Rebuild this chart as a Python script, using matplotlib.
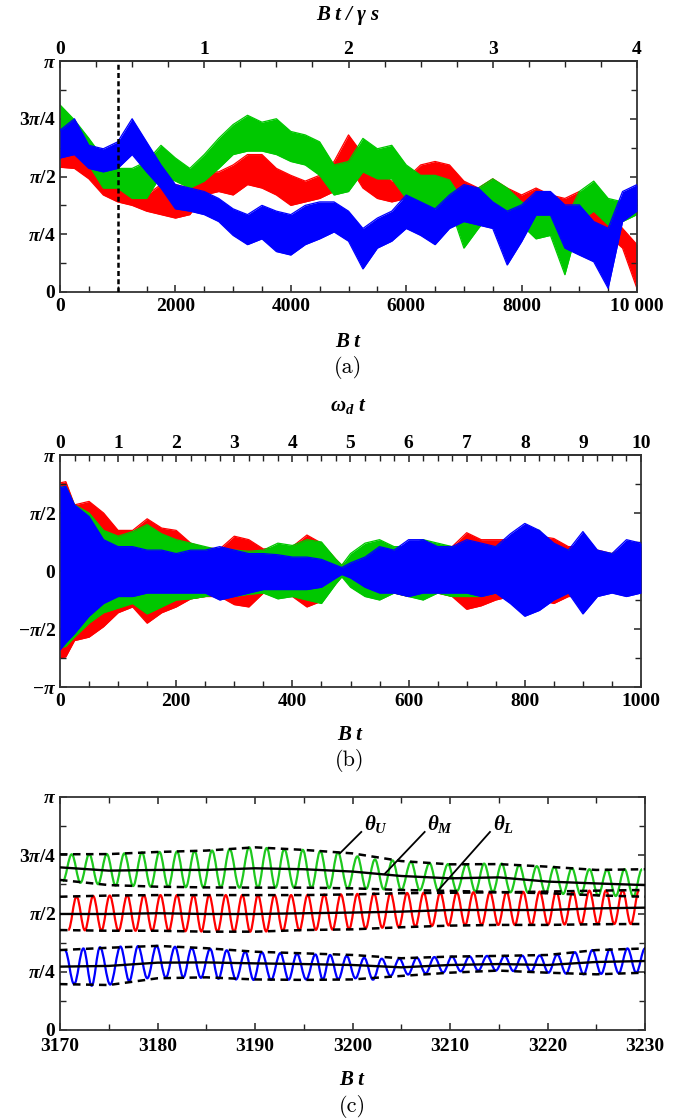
import numpy as np
import matplotlib
matplotlib.use('Agg')
import matplotlib.pyplot as plt
from matplotlib.ticker import FixedLocator, MultipleLocator
from matplotlib.path import Path
from matplotlib.patches import PathPatch
from matplotlib.font_manager import FontProperties

# ---------------- data (angles in units of pi) ----------------
# panel (a): envelopes of the noisy trajectories
a_bt = [0, 250, 500, 750, 1000, 1250, 1500, 1750, 2000, 2250, 2500, 2750, 3000, 3250,
        3500, 3750, 4000, 4250, 4500, 4750, 5000, 5250, 5500, 5750, 6000, 6250, 6500,
        6750, 7000, 7250, 7500, 7750, 8000, 8250, 8500, 8750, 9000, 9250, 9500, 9750, 10000]
a_green_hi = [0.81, 0.745, 0.665, 0.58, 0.535, 0.535, 0.565, 0.635, 0.58, 0.535, 0.595, 0.665,
              0.725, 0.765, 0.735, 0.75, 0.695, 0.68, 0.65, 0.55, 0.565, 0.665, 0.62, 0.635,
              0.55, 0.505, 0.505, 0.485, 0.39, 0.45, 0.49, 0.45, 0.39, 0.36, 0.375, 0.305,
              0.435, 0.48, 0.405, 0.39, 0.405]
a_green_lo = [0.62, 0.615, 0.55, 0.45, 0.45, 0.405, 0.405, 0.505, 0.48, 0.45, 0.48, 0.535,
              0.595, 0.61, 0.61, 0.595, 0.565, 0.55, 0.505, 0.42, 0.435, 0.52, 0.49, 0.49,
              0.405, 0.375, 0.36, 0.375, 0.19, 0.275, 0.35, 0.335, 0.29, 0.23, 0.245, 0.075,
              0.305, 0.35, 0.29, 0.305, 0.335]
a_red_hi = [0.61, 0.61, 0.58, 0.52, 0.49, 0.45, 0.42, 0.465, 0.465, 0.45, 0.52, 0.52, 0.55,
            0.595, 0.595, 0.535, 0.505, 0.48, 0.505, 0.565, 0.68, 0.595, 0.52, 0.48, 0.49,
            0.55, 0.565, 0.55, 0.48, 0.45, 0.49, 0.45, 0.42, 0.45, 0.42, 0.405, 0.435, 0.39,
            0.35, 0.275, 0.205]
a_red_lo = [0.54, 0.535, 0.49, 0.42, 0.39, 0.375, 0.35, 0.335, 0.32, 0.335, 0.42, 0.435, 0.42,
            0.465, 0.45, 0.42, 0.375, 0.39, 0.405, 0.435, 0.55, 0.45, 0.405, 0.39, 0.405,
            0.465, 0.48, 0.45, 0.39, 0.375, 0.405, 0.375, 0.36, 0.36, 0.35, 0.335, 0.35,
            0.305, 0.245, 0.19, 0.015]
a_blue_hi = [0.70, 0.75, 0.635, 0.62, 0.65, 0.75, 0.65, 0.55, 0.465, 0.45, 0.435, 0.405, 0.36,
             0.335, 0.375, 0.35, 0.335, 0.375, 0.39, 0.39, 0.35, 0.275, 0.32, 0.35, 0.42,
             0.39, 0.36, 0.42, 0.465, 0.45, 0.39, 0.35, 0.377, 0.435, 0.435, 0.377, 0.377,
             0.305, 0.276, 0.435, 0.465]
a_blue_lo = [0.58, 0.595, 0.535, 0.52, 0.535, 0.595, 0.52, 0.45, 0.36, 0.35, 0.335, 0.305,
             0.245, 0.205, 0.23, 0.175, 0.16, 0.205, 0.23, 0.26, 0.22, 0.10, 0.19, 0.22,
             0.275, 0.245, 0.205, 0.275, 0.305, 0.29, 0.275, 0.117, 0.218, 0.333, 0.333,
             0.19, 0.16, 0.131, 0.016, 0.305, 0.35]
a_marker_bt = 1000

# panel (b): envelopes of the fast oscillations
b_bt = [0, 10, 25, 50, 75, 100, 125, 150, 175, 200, 225, 250, 275, 300, 325, 350, 375, 400,
        425, 450, 475, 485, 500, 525, 550, 575, 600, 625, 650, 675, 700, 725, 750, 775, 800,
        825, 850, 875, 900, 925, 950, 975, 1000]
b_red_hi = [0.76, 0.77, 0.57, 0.60, 0.50, 0.35, 0.35, 0.45, 0.37, 0.35, 0.24, 0.20, 0.19, 0.30,
            0.27, 0.19, 0.20, 0.21, 0.31, 0.24, 0.10, 0.05, 0.10, 0.13, 0.20, 0.19, 0.21, 0.25,
            0.22, 0.21, 0.33, 0.27, 0.27, 0.27, 0.33, 0.30, 0.28, 0.21, 0.21, 0.18, 0.15, 0.21,
            0.21]
b_red_lo = [-0.75, -0.74, -0.60, -0.57, -0.48, -0.36, -0.31, -0.45, -0.36, -0.31, -0.24, -0.22,
            -0.22, -0.29, -0.31, -0.19, -0.22, -0.22, -0.31, -0.26, -0.10, -0.05, -0.10, -0.14,
            -0.20, -0.19, -0.22, -0.22, -0.19, -0.22, -0.33, -0.30, -0.25, -0.22, -0.28, -0.25,
            -0.28, -0.22, -0.22, -0.20, -0.16, -0.19, -0.19]
b_green_hi = [0.72, 0.73, 0.57, 0.50, 0.35, 0.30, 0.34, 0.40, 0.32, 0.27, 0.24, 0.21, 0.18, 0.18,
              0.17, 0.18, 0.24, 0.22, 0.27, 0.25, 0.10, 0.05, 0.15, 0.24, 0.27, 0.21, 0.21,
              0.27, 0.24, 0.21, 0.21, 0.21, 0.21, 0.28, 0.37, 0.35, 0.21, 0.18, 0.18, 0.17,
              0.15, 0.17, 0.18]
b_green_lo = [-0.66, -0.65, -0.57, -0.45, -0.36, -0.32, -0.28, -0.37, -0.31, -0.25, -0.24,
              -0.22, -0.20, -0.22, -0.20, -0.19, -0.24, -0.22, -0.25, -0.28, -0.11, -0.05,
              -0.14, -0.22, -0.25, -0.19, -0.22, -0.25, -0.19, -0.22, -0.22, -0.22, -0.19,
              -0.25, -0.37, -0.31, -0.22, -0.18, -0.18, -0.16, -0.15, -0.17, -0.16]
b_blue_hi = [0.72, 0.73, 0.57, 0.47, 0.27, 0.21, 0.21, 0.18, 0.18, 0.15, 0.18, 0.18, 0.21, 0.18,
             0.15, 0.15, 0.14, 0.12, 0.12, 0.10, 0.05, 0.03, 0.07, 0.12, 0.21, 0.18, 0.27, 0.27,
             0.21, 0.21, 0.27, 0.24, 0.21, 0.32, 0.41, 0.35, 0.24, 0.18, 0.34, 0.18, 0.15,
             0.27, 0.24]
b_blue_lo = [-0.68, -0.62, -0.54, -0.39, -0.28, -0.22, -0.22, -0.19, -0.19, -0.19, -0.19,
             -0.19, -0.25, -0.22, -0.19, -0.16, -0.16, -0.16, -0.16, -0.14, -0.06, -0.03,
             -0.06, -0.14, -0.19, -0.19, -0.22, -0.19, -0.19, -0.19, -0.19, -0.22, -0.19,
             -0.28, -0.39, -0.34, -0.25, -0.19, -0.37, -0.22, -0.19, -0.22, -0.19]

# panel (c): oscillation extrema, running means and envelopes
c_green_pk_t = [3171.2, 3173.0, 3174.8, 3176.6, 3178.4, 3180.2, 3182.0, 3183.8, 3185.6, 3187.4,
                3189.4, 3191.2, 3193.0, 3194.9, 3196.7, 3198.5, 3200.5, 3202.3, 3204.1, 3206.0,
                3207.9, 3209.8, 3211.7, 3213.5, 3215.3, 3217.1, 3218.9, 3220.7, 3222.5, 3224.3,
                3226.1, 3227.9, 3229.7]
c_green_pk_v = [0.754, 0.755, 0.755, 0.758, 0.762, 0.764, 0.766, 0.768, 0.770, 0.776, 0.784,
                0.781, 0.776, 0.773, 0.768, 0.762, 0.745, 0.732, 0.728, 0.722, 0.716, 0.712,
                0.712, 0.714, 0.714, 0.708, 0.703, 0.700, 0.695, 0.690, 0.688, 0.690, 0.690]
c_green_tr_t = [3170.3, 3172.1, 3173.9, 3175.7, 3177.5, 3179.3, 3181.1, 3182.9, 3184.7, 3186.5,
                3188.4, 3190.3, 3192.1, 3194.0, 3195.8, 3197.6, 3199.5, 3201.4, 3203.2, 3205.0,
                3206.9, 3208.8, 3210.7, 3212.6, 3214.4, 3216.2, 3218.0, 3219.8, 3221.6, 3223.4,
                3225.2, 3227.0, 3228.8]
c_green_tr_v = [0.640, 0.632, 0.626, 0.620, 0.618, 0.615, 0.614, 0.613, 0.612, 0.612, 0.611,
                0.611, 0.611, 0.611, 0.610, 0.609, 0.608, 0.606, 0.604, 0.601, 0.600, 0.598,
                0.596, 0.594, 0.593, 0.591, 0.589, 0.587, 0.584, 0.580, 0.577, 0.575, 0.573]
c_red_pk_t = [3171.7, 3173.4, 3175.1, 3176.9, 3178.6, 3180.3, 3182.0, 3183.7, 3185.3, 3187.0,
              3188.7, 3190.3, 3192.0, 3193.7, 3195.4, 3197.1, 3198.8, 3200.5, 3202.2, 3203.9,
              3205.6, 3207.3, 3209.0, 3210.7, 3212.4, 3214.1, 3215.8, 3217.5, 3219.2, 3220.9,
              3222.6, 3224.3, 3226.0, 3227.7, 3229.4]
c_red_pk_v = [0.573, 0.575, 0.577, 0.578, 0.579, 0.579, 0.579, 0.579, 0.579, 0.579, 0.579,
              0.579, 0.579, 0.579, 0.580, 0.581, 0.582, 0.584, 0.586, 0.587, 0.588, 0.589,
              0.589, 0.590, 0.591, 0.591, 0.592, 0.593, 0.594, 0.595, 0.596, 0.598, 0.599,
              0.600, 0.601]
c_red_tr_t = [3170.85, 3172.55, 3174.25, 3176.0, 3177.75, 3179.45, 3181.15, 3182.85, 3184.5,
              3186.15, 3187.85, 3189.5, 3191.15, 3192.85, 3194.55, 3196.25, 3197.95, 3199.65,
              3201.35, 3203.05, 3204.75, 3206.45, 3208.15, 3209.85, 3211.55, 3213.25, 3214.95,
              3216.65, 3218.35, 3220.05, 3221.75, 3223.45, 3225.15, 3226.85, 3228.55]
c_red_tr_v = [0.429, 0.428, 0.427, 0.426, 0.426, 0.426, 0.425, 0.424, 0.423, 0.422, 0.422,
              0.422, 0.423, 0.425, 0.428, 0.430, 0.431, 0.433, 0.436, 0.439, 0.441, 0.444,
              0.447, 0.449, 0.450, 0.451, 0.451, 0.451, 0.451, 0.452, 0.453, 0.454, 0.454,
              0.455, 0.455]
c_blue_pk_t = [3170.5, 3172.4, 3174.1, 3176.2, 3178.0, 3179.9, 3181.8, 3183.5, 3185.4, 3187.1,
               3189.0, 3190.7, 3192.6, 3194.3, 3196.2, 3197.7, 3199.4, 3201.2, 3203.0, 3204.8,
               3206.6, 3208.4, 3210.2, 3212.0, 3213.8, 3215.6, 3217.4, 3219.2, 3221.0, 3222.8,
               3224.6, 3226.4, 3228.2, 3230.0]
c_blue_pk_v = [0.343, 0.350, 0.355, 0.358, 0.360, 0.361, 0.357, 0.352, 0.348, 0.342, 0.336,
               0.333, 0.330, 0.327, 0.324, 0.322, 0.318, 0.310, 0.306, 0.306, 0.310, 0.313,
               0.315, 0.316, 0.318, 0.318, 0.319, 0.320, 0.324, 0.334, 0.343, 0.347, 0.350,
               0.350]
c_blue_tr_t = [3171.45, 3173.25, 3175.15, 3177.1, 3178.95, 3180.85, 3182.65, 3184.45, 3186.25,
               3188.05, 3189.85, 3191.65, 3193.45, 3195.25, 3196.95, 3198.55, 3200.3, 3202.1,
               3203.9, 3205.7, 3207.5, 3209.3, 3211.1, 3212.9, 3214.7, 3216.5, 3218.3, 3220.1,
               3221.9, 3223.7, 3225.5, 3227.3, 3229.1]
c_blue_tr_v = [0.197, 0.190, 0.195, 0.210, 0.222, 0.225, 0.226, 0.224, 0.220, 0.217, 0.215,
               0.215, 0.216, 0.217, 0.217, 0.218, 0.222, 0.216, 0.232, 0.238, 0.243, 0.247,
               0.252, 0.255, 0.255, 0.253, 0.250, 0.246, 0.242, 0.239, 0.241, 0.244, 0.246]

c_t = [3170, 3175, 3180, 3185, 3190, 3195, 3200, 3205, 3210, 3215, 3220, 3225, 3230]
c_green_up = [0.754, 0.755, 0.764, 0.770, 0.784, 0.773, 0.758, 0.725, 0.711, 0.712, 0.701, 0.687, 0.690]
c_green_mid = [0.698, 0.684, 0.687, 0.687, 0.694, 0.690, 0.680, 0.661, 0.651, 0.655, 0.637, 0.629, 0.622]
c_green_low = [0.644, 0.622, 0.615, 0.612, 0.611, 0.611, 0.608, 0.601, 0.597, 0.592, 0.587, 0.578, 0.572]
c_red_up = [0.572, 0.577, 0.579, 0.579, 0.579, 0.579, 0.582, 0.587, 0.589, 0.591, 0.594, 0.598, 0.601]
c_red_mid = [0.498, 0.498, 0.501, 0.498, 0.498, 0.501, 0.504, 0.508, 0.515, 0.515, 0.515, 0.522, 0.525]
c_red_low = [0.429, 0.426, 0.426, 0.422, 0.422, 0.429, 0.432, 0.441, 0.448, 0.451, 0.451, 0.454, 0.455]
c_blue_up = [0.343, 0.353, 0.361, 0.351, 0.336, 0.329, 0.322, 0.308, 0.315, 0.318, 0.322, 0.343, 0.350]
c_blue_mid = [0.272, 0.275, 0.289, 0.290, 0.286, 0.283, 0.279, 0.269, 0.279, 0.283, 0.279, 0.292, 0.296]
c_blue_low = [0.197, 0.193, 0.222, 0.226, 0.217, 0.215, 0.217, 0.232, 0.246, 0.255, 0.246, 0.239, 0.246]

c_labels = [r'$\theta_U$', r'$\theta_M$', r'$\theta_L$']
c_label_xy = [(3202.4, 0.885), (3209.0, 0.885), (3215.5, 0.885)]
c_pointer_from = [(3200.9, 0.850), (3207.4, 0.850), (3214.1, 0.850)]
c_pointer_to = [(3198.7, 0.758), (3203.3, 0.670), (3208.8, 0.600)]

y_labels_pos = [r'$0$', r'$\pi/4$', r'$\pi/2$', r'$3\pi/4$', r'$\pi$']
y_labels_sym = [r'$-\pi$', r'$-\pi/2$', r'$0$', r'$\pi/2$', r'$\pi$']
top_a_major = [0, 1, 2, 3, 4]
top_b_major = [0, 1, 2, 3, 4, 5, 6, 7, 8, 9, 10]

# ---------------- style ----------------
PI = np.pi
RED, GREEN, BLUE = '#ff0000', '#00c800', '#0000ff'
SERIF = 'Liberation Serif'
plt.rcParams['mathtext.fontset'] = 'custom'
plt.rcParams['mathtext.it'] = 'Liberation Serif:italic:bold'
plt.rcParams['mathtext.rm'] = 'Liberation Serif:bold'
plt.rcParams['mathtext.bf'] = 'Liberation Serif:bold'
plt.rcParams['axes.linewidth'] = 1.3
plt.rcParams['axes.edgecolor'] = '#333333'

W, H = 685, 1120
fig = plt.figure(figsize=(W / 100, H / 100), dpi=100)
tickfont = FontProperties(family=SERIF, weight='bold', size=14)
labfont = FontProperties(family=SERIF, weight='bold', style='italic', size=15)


def ax_at(l, r, t, b):
    return fig.add_axes([l / W, 1 - b / H, (r - l) / W, (b - t) / H])


def style_ticks(ax, right=True, top=True, xpad=4):
    ax.tick_params(which='both', direction='in', right=right, top=top, colors='#222222',
                   labelcolor='black')
    ax.tick_params(which='major', length=5, width=1.1, pad=3)
    ax.tick_params(axis='x', which='major', pad=xpad)
    ax.tick_params(which='minor', length=4, width=1.0)
    for lab in ax.get_xticklabels() + ax.get_yticklabels():
        lab.set_fontproperties(tickfont)


def set_yaxis(ax, major, labels, minor):
    ax.yaxis.set_major_locator(FixedLocator([m * PI for m in major]))
    ax.set_yticklabels(labels)
    ax.yaxis.set_minor_locator(FixedLocator([m * PI for m in minor]))


def top_axis(ax, scale, major):
    s = ax.secondary_xaxis('top', functions=(lambda x: x / scale, lambda x: x * scale))
    s.xaxis.set_major_locator(FixedLocator(major))
    s.xaxis.set_minor_locator(FixedLocator(np.arange(0, major[-1] + 1e-9, 0.25)))
    s.set_xticklabels([str(m) for m in major])
    s.tick_params(which='both', direction='in', colors='#222222', labelcolor='black')
    s.tick_params(which='major', length=5, width=1.1, pad=2)
    s.tick_params(which='minor', length=4, width=1.0)
    for lab in s.get_xticklabels():
        lab.set_fontproperties(tickfont)
    return s


def band(ax, x, lo, hi, color, z):
    lo = np.array(lo) * PI
    hi = np.array(hi) * PI
    ax.fill_between(x, lo, hi, color=color, lw=0, zorder=z)
    ax.plot(x, lo, color=color, lw=0.9, zorder=z + 0.1)
    ax.plot(x, hi, color=color, lw=0.9, zorder=z + 0.1)


def wave(ax, pk_t, pk_v, tr_t, tr_v, color):
    pts = sorted(list(zip(pk_t, pk_v)) + list(zip(tr_t, tr_v)))
    verts = [(pts[0][0], pts[0][1] * PI)]
    codes = [Path.MOVETO]
    for (t0, v0), (t1, v1) in zip(pts[:-1], pts[1:]):
        d = (t1 - t0) * 0.37
        verts += [(t0 + d, v0 * PI), (t1 - d, v1 * PI), (t1, v1 * PI)]
        codes += [Path.CURVE4] * 3
    ax.add_patch(PathPatch(Path(verts, codes), fill=False, ec=color, lw=1.6))


def fig_label(x, y, s, fp):
    fig.text(x / W, 1 - y / H, s, fontproperties=fp, ha='center', va='center')


# ---------------- panel (a) ----------------
axa = ax_at(60, 637, 61, 292)
band(axa, a_bt, a_red_lo, a_red_hi, RED, 1)
band(axa, a_bt, a_green_lo, a_green_hi, GREEN, 2)
band(axa, a_bt, a_blue_lo, a_blue_hi, BLUE, 3)
axa.axvline(a_marker_bt, color='black', lw=1.8, ls=(0, (2.0, 1.3)), zorder=5)
axa.set_xlim(0, 10000)
axa.set_ylim(0, PI)
axa.xaxis.set_major_locator(FixedLocator([0, 2000, 4000, 6000, 8000, 10000]))
axa.xaxis.set_minor_locator(MultipleLocator(500))
axa.set_xticklabels(['0', '2000', '4000', '6000', '8000', '10 000'])
set_yaxis(axa, [0, 0.25, 0.5, 0.75, 1.0], y_labels_pos, [0.125, 0.375, 0.625, 0.875])
style_ticks(axa, top=False)
top_axis(axa, 2500, top_a_major)
fig_label(348, 15, 'B t / γ s', labfont)
fig_label(348, 342, 'B t', labfont)
fig.text(348 / W, 1 - 367 / H, '(a)', family='cmr10', size=16, ha='center', va='center')

# ---------------- panel (b) ----------------
axb = ax_at(60, 641, 455, 687)
band(axb, b_bt, b_red_lo, b_red_hi, RED, 1)
band(axb, b_bt, b_green_lo, b_green_hi, GREEN, 2)
band(axb, b_bt, b_blue_lo, b_blue_hi, BLUE, 3)
axb.set_xlim(0, 1000)
axb.set_ylim(-PI, PI)
axb.xaxis.set_major_locator(FixedLocator([0, 200, 400, 600, 800, 1000]))
axb.xaxis.set_minor_locator(MultipleLocator(50))
set_yaxis(axb, [-1, -0.5, 0, 0.5, 1], y_labels_sym, [-0.75, -0.25, 0.25, 0.75])
style_ticks(axb, top=False)
top_axis(axb, 100, top_b_major)
fig_label(348, 406, r'$\omega_d\ t$', labfont)
fig_label(350, 735, 'B t', labfont)
fig.text(350 / W, 1 - 760 / H, '(b)', family='cmr10', size=16, ha='center', va='center')

# ---------------- panel (c) ----------------
axc = ax_at(60, 645, 797, 1030)
wave(axc, c_green_pk_t, c_green_pk_v, c_green_tr_t, c_green_tr_v, '#1ec81e')
wave(axc, c_red_pk_t, c_red_pk_v, c_red_tr_t, c_red_tr_v, RED)
wave(axc, c_blue_pk_t, c_blue_pk_v, c_blue_tr_t, c_blue_tr_v, BLUE)
dash = (0, (3.0, 2.2))
for up, mid, low in [(c_green_up, c_green_mid, c_green_low),
                     (c_red_up, c_red_mid, c_red_low),
                     (c_blue_up, c_blue_mid, c_blue_low)]:
    axc.plot(c_t, np.array(up) * PI, color='black', lw=1.8, ls=dash, zorder=4)
    axc.plot(c_t, np.array(low) * PI, color='black', lw=1.8, ls=dash, zorder=4)
    axc.plot(c_t, np.array(mid) * PI, color='black', lw=1.7, zorder=4)
for s, (lx, ly), (fx, fy), (tx, ty) in zip(c_labels, c_label_xy, c_pointer_from, c_pointer_to):
    axc.plot([fx, tx], [fy * PI, ty * PI], color='black', lw=1.3, zorder=5)
    axc.text(lx, ly * PI, s, fontsize=15, ha='center', va='center')
axc.set_xlim(3170, 3230)
axc.set_ylim(0, PI)
axc.xaxis.set_major_locator(FixedLocator([3170, 3180, 3190, 3200, 3210, 3220, 3230]))
axc.xaxis.set_minor_locator(MultipleLocator(5))
set_yaxis(axc, [0, 0.25, 0.5, 0.75, 1.0], y_labels_pos, [0.125, 0.375, 0.625, 0.875])
style_ticks(axc, top=True, xpad=6)
fig_label(352, 1080, 'B t', labfont)
fig.text(352 / W, 1 - 1107 / H, '(c)', family='cmr10', size=16, ha='center', va='center')

fig.savefig('out.png', dpi=100)
